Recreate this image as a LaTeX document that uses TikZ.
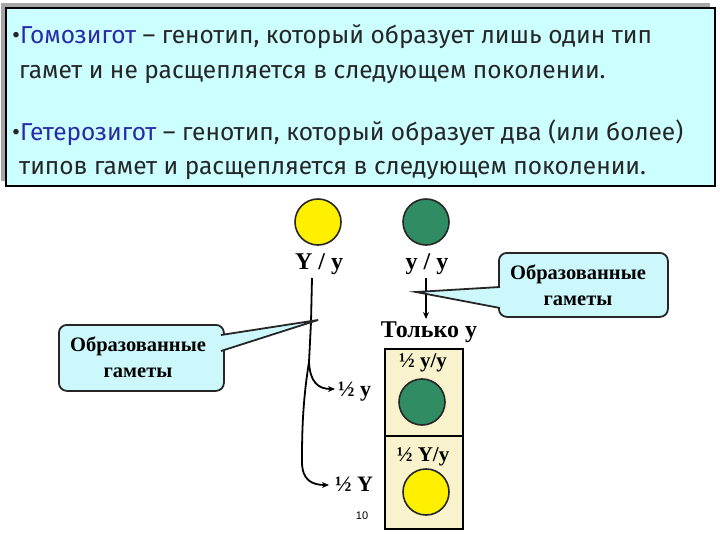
\documentclass[tikz,border=0pt]{standalone}
\usepackage{fontspec}
\setmainfont{Liberation Serif}
\newfontfamily\topfont{Fira Sans}
\newfontfamily\numfont{Liberation Sans}
\usetikzlibrary{arrows.meta}
\definecolor{boxcyan}{HTML}{CCFFFF}
\definecolor{callcyan}{HTML}{CCF8FC}
\definecolor{headblue}{HTML}{2A2AA8}
\definecolor{ballyellow}{HTML}{FFF000}
\definecolor{ballgreen}{HTML}{2F8C63}
\definecolor{cellbeige}{HTML}{F8F3CC}
\tikzset{
  ball/.style={circle, draw=black!85, line width=1.6pt, minimum size=46pt, inner sep=0pt},
  yball/.style={ball, fill=ballyellow},
  gball/.style={ball, fill=ballgreen},
  toptext/.style={anchor=base west, inner sep=0pt, font=\topfont\fontsize{24.5}{28}\selectfont, text=black!85},
  glabel/.style={inner sep=0pt, font=\bfseries\fontsize{22}{24}\selectfont},
  plabel/.style={inner sep=0pt, font=\bfseries\fontsize{24}{26}\selectfont},
  clabel/.style={inner sep=0pt, font=\bfseries\fontsize{21}{23}\selectfont},
  callbox/.style={draw=black!85, line width=1.8pt, fill=callcyan, rounded corners=8pt},
  callwedge/.style={fill=callcyan},
  callline/.style={draw=black!85, line width=1.8pt},
  calltext/.style={align=center, font=\bfseries\fontsize{20.5}{26}\selectfont, inner sep=0pt},
  cellbox/.style={draw=black, line width=1.5pt, fill=cellbeige},
  conn/.style={draw=black, line width=1.8pt},
  connarrow/.style={conn, -{Stealth[length=7pt,width=6pt]}},
}
\begin{document}
\begin{tikzpicture}[x=1pt,y=-1pt]
\useasboundingbox (0,0) rectangle (720,540);
\fill[white] (0,0) rectangle (720,540);
% top definition box
\fill[black!35] (1,3) rectangle (710,181);
\node[draw=black, line width=1.6pt, fill=boxcyan, minimum width=709pt, minimum height=178pt, inner sep=0pt, anchor=north west] (defbox) at (5,7) {};
\node[toptext] (l1) at (12,44) {•\textcolor{headblue}{Гомозигот} – генотип, который образует лишь один тип};
\node[toptext] (l2) at (19,79) {гамет и не расщепляется в следующем поколении.};
\node[toptext] (l3) at (12,141) {•\textcolor{headblue}{Гетерозигот} – генотип, который образует два (или более)};
\node[toptext] (l4) at (19,175) {типов гамет и расщепляется в следующем поколении.};
% parents
\node[yball] (py) at (318,222) {};
\node[gball] (pg) at (426,222) {};
\node[plabel] (ly) at (319,264) {Y / y};
\node[plabel] (lg) at (427,264) {y / y};
% gamete lines
\coordinate (ytop) at (312,278);
\coordinate (ysplit) at (309,362);
\coordinate (yend1) at (335,389);
\coordinate (yend2) at (329,485);
\draw[conn] (ytop) -- (311,322) -- (ysplit);
\draw[connarrow] (ysplit) .. controls (310,382) and (318,389) .. (yend1);
\draw[connarrow] (ysplit) .. controls (302,405) and (302,440) .. (302,462) .. controls (302,480) and (312,485) .. (yend2);
\node[glabel, anchor=west] (gy) at (338,392) {½ y};
\node[glabel, anchor=west] (gY) at (335,484) {½ Y};
\coordinate (gtop) at (426,278);
\coordinate (gend) at (426,319);
\draw[connarrow] (gtop) -- (gend);
\node[plabel] (only) at (429,332) {Только y};
% table
\node[cellbox, minimum width=78pt, minimum height=87pt, inner sep=0pt, anchor=north west] (c1) at (384,348) {};
\node[cellbox, minimum width=78pt, minimum height=93pt, inner sep=0pt, anchor=north west] (c2) at (384,435) {};
\node[clabel] (t1) at (423,363) {½ y/y};
\node[gball] (b1) at (422,402) {};
\node[clabel] (t2) at (423,457) {½ Y/y};
\node[yball] (b2) at (426,492) {};
\node[font=\numfont\fontsize{11}{12}\selectfont, inner sep=0pt] (pg10) at (362,516) {10};
% right callout
\node[callbox, minimum width=169pt, minimum height=64pt, anchor=north west] (cr) at (498,252) {};
\node[calltext] (crt) at (578,285) {Образованные\\гаметы};
\coordinate (crtip) at (416,292);
\fill[callwedge] (crtip) -- (500,287) -- (500,308) -- cycle;
\draw[callline] (500,287) -- (crtip) -- (500,308);
% left callout
\node[callbox, minimum width=165pt, minimum height=66pt, anchor=north west] (cl) at (58,324) {};
\node[calltext] (clt) at (138,357) {Образованные\\гаметы};
\coordinate (cltip) at (318,320);
\fill[callwedge] (cltip) -- (221,335) -- (221,351) -- cycle;
\draw[callline] (221,335) -- (cltip) -- (221,351);
\end{tikzpicture}
\end{document}
